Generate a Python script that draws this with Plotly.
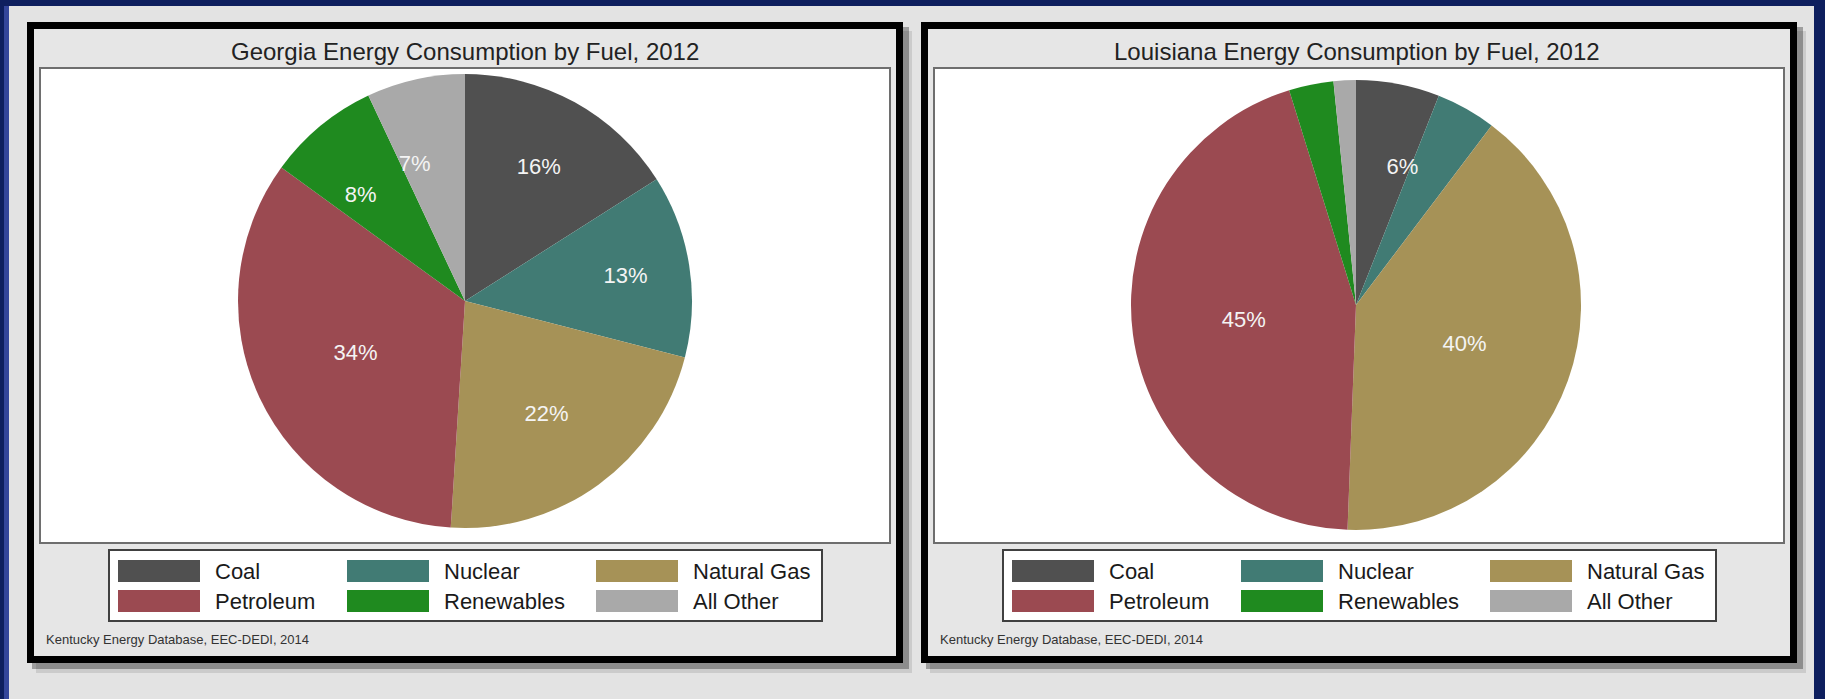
import plotly.graph_objects as go

# ---------------- data ----------------
categories = ["Coal", "Nuclear", "Natural Gas", "Petroleum", "Renewables", "All Other"]
georgia_values = [16, 13, 22, 34, 8, 7]
louisiana_values = [6, 4.3, 40.3, 44.6, 3.2, 1.6]
colors = ["#505050", "#417b74", "#a69257", "#9b4a51", "#1f8a1f", "#a9a9a9"]
titles = ["Georgia Energy Consumption by Fuel, 2012",
          "Louisiana Energy Consumption by Fuel, 2012"]
source_note = "Kentucky Energy Database, EEC-DEDI, 2014"
label_min_share = 5     # percent labels shown only for slices >= 5%
small_share = 10        # labels of small slices sit on an inner ring

# ---------------- layout helpers ----------------
W, H = 1825, 699
FONT = "Liberation Sans, Arial, sans-serif"


def fx(x):
    return x / W


def fy(y):
    return 1 - y / H


def rect(x0, y0, x1, y1, fill=None, line_color=None, line_width=0):
    return dict(type="rect", xref="paper", yref="paper", layer="below",
                x0=fx(x0), x1=fx(x1), y0=fy(y1), y1=fy(y0),
                fillcolor=fill if fill else "rgba(0,0,0,0)",
                line=dict(color=line_color if line_color else "rgba(0,0,0,0)",
                          width=line_width))


def domain(cx, cy, r):
    return dict(x=[fx(cx - r), fx(cx + r)], y=[fy(cy + r), fy(cy - r)])


panel_offsets = [0, 894]
pie_geom = [(465, 301, 227), (1356, 305, 225)]  # centre x, centre y, radius (px)
label_ring = 129                                 # radius of inner label ring (px)
series = [georgia_values, louisiana_values]

fig = go.Figure()

for values, (cx, cy, r) in zip(series, pie_geom):
    total = sum(values)
    shares = [v / total * 100 for v in values]
    big_tpl = ["%{percent:.0%}" if s >= small_share else "" for s in shares]
    small_tpl = ["%{percent:.0%}" if label_min_share <= s < small_share else ""
                 for s in shares]
    fig.add_trace(go.Pie(
        labels=categories,
        values=values,
        sort=False,
        direction="clockwise",
        rotation=0,
        marker=dict(colors=colors, line=dict(width=0)),
        texttemplate=big_tpl,
        textposition="inside",
        insidetextorientation="horizontal",
        textfont=dict(color="#f4f4f4", size=22, family=FONT),
        hoverinfo="label+percent",
        showlegend=False,
        domain=domain(cx, cy, r),
    ))
    # labels of the narrow slices, placed on an inner ring of the same pie
    fig.add_trace(go.Pie(
        labels=categories,
        values=values,
        sort=False,
        direction="clockwise",
        rotation=0,
        marker=dict(colors=["rgba(0,0,0,0)"] * len(values), line=dict(width=0)),
        texttemplate=small_tpl,
        textposition="outside",
        textfont=dict(color="#f4f4f4", size=22, family=FONT),
        outsidetextfont=dict(color="#f4f4f4", size=22, family=FONT),
        hoverinfo="skip",
        showlegend=False,
        domain=domain(cx, cy, label_ring),
    ))

shapes = []
annotations = []

# outer slide background
shapes.append(rect(9, 6, 1814, 699, fill="#e3e3e3"))
shapes.append(rect(4, 6, 9, 699, fill="#34469a"))

swatch_cols = [118, 347, 596]
swatch_rows = [560, 590]
swatch_w, swatch_h = 82, 22

for k, dx in enumerate(panel_offsets):
    # shadow
    shapes.append(rect(27 + dx + 9, 22 + 9, 903 + dx + 9, 663 + 10, fill="rgba(0,0,0,0.10)"))
    shapes.append(rect(27 + dx + 5, 22 + 5, 903 + dx + 6, 663 + 6, fill="rgba(0,0,0,0.30)"))
    # black frame
    shapes.append(rect(30.5 + dx, 25.5, 899.5 + dx, 659.5, fill="#e6e6e6",
                       line_color="#000000", line_width=7))
    # plot area
    shapes.append(rect(40 + dx, 68, 890 + dx, 543, fill="#ffffff",
                       line_color="#6e6e6e", line_width=2))
    # legend box
    shapes.append(rect(109 + dx, 550, 822 + dx, 621, fill="#ffffff",
                       line_color="#404040", line_width=2))
    for i, name in enumerate(categories):
        row, col = divmod(i, 3)
        sx = swatch_cols[col] + dx
        sy = swatch_rows[row]
        shapes.append(rect(sx, sy, sx + swatch_w, sy + swatch_h, fill=colors[i]))
        annotations.append(dict(
            xref="paper", yref="paper", x=fx(sx + swatch_w + 13), y=fy(sy + swatch_h / 2),
            xanchor="left", yanchor="middle", showarrow=False, text=name,
            font=dict(family=FONT, size=22, color="#1a1a1a")))
    # title
    annotations.append(dict(
        xref="paper", yref="paper", x=fx(465 + dx - (0 if k == 0 else 2)), y=fy(52),
        xanchor="center", yanchor="middle", showarrow=False, text=titles[k],
        font=dict(family=FONT, size=24, color="#222222")))
    # source note
    annotations.append(dict(
        xref="paper", yref="paper", x=fx(44 + dx), y=fy(639),
        xanchor="left", yanchor="middle", showarrow=False, text=source_note,
        font=dict(family=FONT, size=13, color="#333333")))

fig.update_layout(
    width=W, height=H,
    margin=dict(l=0, r=0, t=0, b=0),
    paper_bgcolor="#0e1f5e",
    plot_bgcolor="#0e1f5e",
    shapes=shapes,
    annotations=annotations,
    showlegend=False,
)

fig.write_html("out.html",
               config={"displayModeBar": False},
               post_script="document.body.style.margin='0px';"
                           "document.body.style.overflow='hidden';")
